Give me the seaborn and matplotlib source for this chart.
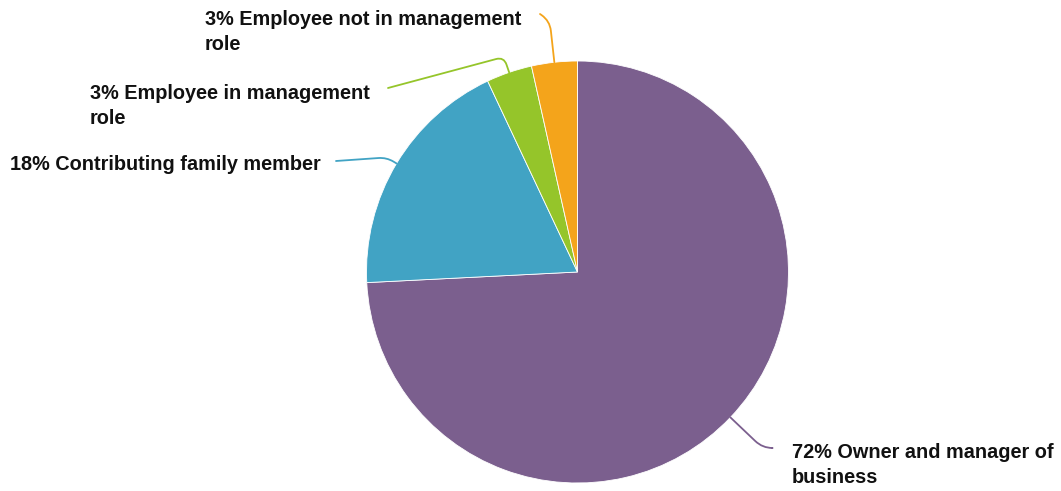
import numpy as np
import matplotlib
matplotlib.use("Agg")
import matplotlib.pyplot as plt
import seaborn as sns

# ---- data ----
categories = ["Owner and manager of\nbusiness", "Contributing family member",
              "Employee in management\nrole", "Employee not in management\nrole"]
shares = [74.2, 18.8, 3.5, 3.5]          # slice sizes
pct_labels = ["72%", "18%", "3%", "3%"]    # percentages as printed
colors = ["#7b5f8e", "#41a3c4", "#95c52a", "#f4a41b"]

sns.set_theme(style="white")
plt.rcParams['font.family'] = ['Liberation Sans', 'DejaVu Sans']

W, H = 1061, 491
fig = plt.figure(figsize=(W / 100, H / 100), dpi=100)
ax = fig.add_axes([0, 0, 1, 1])

def P(x, y):
    return (x, H - y)

cx, cy = P(577.5, 272)
R = 211
wedges, _ = ax.pie(shares, colors=colors, startangle=90, counterclock=False,
                   center=(cx, cy), radius=R, frame=True,
                   wedgeprops=dict(edgecolor="white", linewidth=0.6))
ax.set_xlim(0, W)
ax.set_ylim(0, H)
ax.set_aspect('equal')
ax.axis('off')

# layout for labels: last-line baseline anchor, line end, connector angle, corner radius
layout = [
    dict(text=P(792, 483), end=P(772, 448), angA=0, rad=10),
    dict(text=P(10, 170), end=P(336, 161), angA=4, rad=8),
    dict(text=P(90, 124), end=P(388, 88), angA=15, rad=8),
    dict(text=P(205, 50), end=P(540, 14), angA=-35, rad=10),
]

for w, cat, pct, col, lay in zip(wedges, categories, pct_labels, colors, layout):
    mid = np.deg2rad((w.theta1 + w.theta2) / 2)
    rim = (cx + R * np.cos(mid), cy + R * np.sin(mid))
    angB = np.rad2deg(mid)
    ax.annotate("", xy=rim, xytext=lay["end"],
                arrowprops=dict(arrowstyle="-", color=col, lw=1.3,
                                shrinkA=0, shrinkB=0,
                                connectionstyle=f"angle,angleA={lay['angA']},angleB={angB},rad={lay['rad']}"))
    ax.text(lay["text"][0], lay["text"][1], f"{pct} {cat}", ha="left", va="baseline",
            fontsize=14.3, fontweight="bold", color="#111111", linespacing=1.4)

fig.savefig("out.png", dpi=100)
